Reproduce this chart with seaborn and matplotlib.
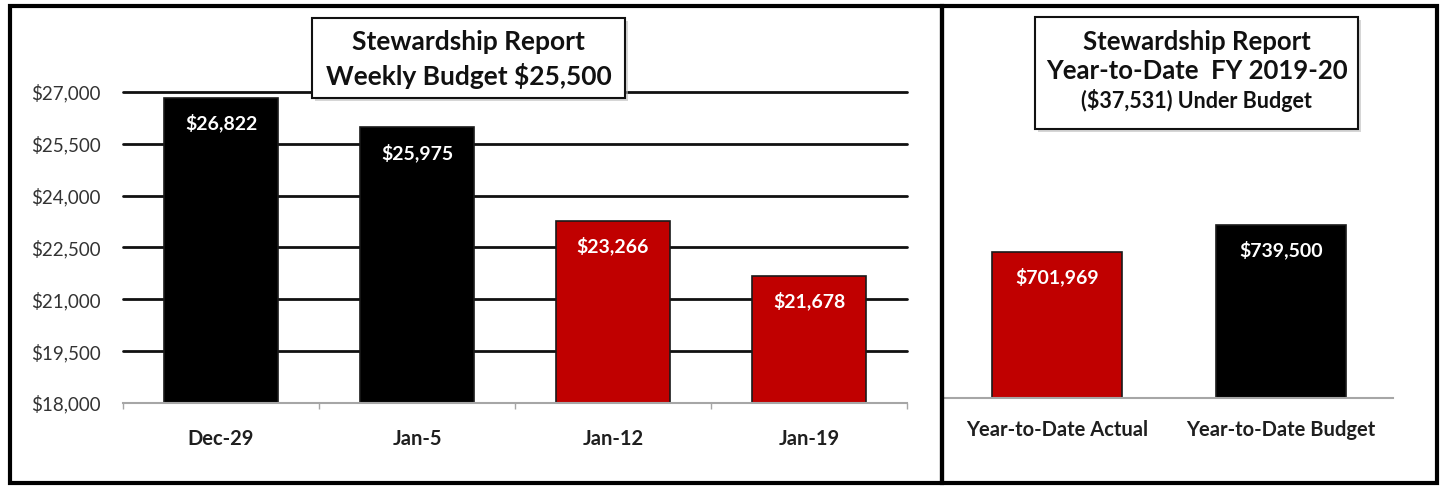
import matplotlib
matplotlib.use("Agg")
import matplotlib.pyplot as plt
from matplotlib.patches import Rectangle
from matplotlib.ticker import FixedLocator, StrMethodFormatter
import seaborn as sns

# weekly data
weeks = ["Dec-29", "Jan-5", "Jan-12", "Jan-19"]
weekly_amounts = [26822, 25975, 23266, 21678]
weekly_colors = ["#000000", "#000000", "#C00000", "#C00000"]
weekly_ticks = [18000, 19500, 21000, 22500, 24000, 25500, 27000]

# year-to-date data
ytd_labels = ["Year-to-Date Actual", "Year-to-Date Budget"]
ytd_amounts = [701969, 739500]
ytd_colors = ["#C00000", "#000000"]

W, H = 1443, 486

sns.set_theme(style="white")
plt.rcParams["font.family"] = ["Lato", "DejaVu Sans"]

fig = plt.figure(figsize=(W / 100, H / 100), dpi=100)


def frac(x0, y0, x1, y1):
    # pixel box (top-left origin) -> figure fraction rect
    return [x0 / W, 1 - y1 / H, (x1 - x0) / W, (y1 - y0) / H]


def label_bars(ax, values):
    for p, v in zip(ax.patches, values):
        ax.annotate(f"${v:,.0f}", (p.get_x() + p.get_width() / 2, p.get_height()),
                    xytext=(0, -18), textcoords="offset points", ha="center", va="center",
                    color="white", fontsize=14, fontweight="bold", zorder=5)


# ---- left panel: weekly ----
ax1 = fig.add_axes(frac(123, 92, 907, 403))
sns.barplot(x=weeks, y=weekly_amounts, hue=weeks, palette=weekly_colors, legend=False,
            width=0.58, edgecolor="#1a1a1a", linewidth=1.2, saturation=1, ax=ax1)
ax1.set_ylim(18000, 27000)
ax1.set_xlim(-0.5, len(weeks) - 0.5)
ax1.yaxis.set_major_locator(FixedLocator(weekly_ticks))
ax1.yaxis.set_major_formatter(StrMethodFormatter("${x:,.0f}"))
ax1.set_axisbelow(True)
ax1.yaxis.grid(True, color="#111111", linewidth=2)
for i, gl in enumerate(ax1.get_ygridlines()):
    gl.set_clip_on(False)
    if i == 0:
        gl.set_visible(False)
ax1.xaxis.set_minor_locator(FixedLocator([i - 0.5 for i in range(len(weeks) + 1)]))
ax1.tick_params(axis="x", which="minor", bottom=True, length=4.5, width=1, color="#A6A6A6")
ax1.tick_params(axis="x", which="major", length=0, pad=19, labelsize=14.5, labelcolor="#1f1f1f")
ax1.tick_params(axis="y", length=0, pad=16, labelsize=13.5, labelcolor="#333333")
for lbl in ax1.get_xticklabels():
    lbl.set_fontweight("bold")
for s in ["top", "right", "left"]:
    ax1.spines[s].set_visible(False)
ax1.spines["bottom"].set_color("#A6A6A6")
ax1.spines["bottom"].set_linewidth(1.5)
ax1.set_xlabel("")
ax1.set_ylabel("")
label_bars(ax1, weekly_amounts)

# ---- right panel: year to date ----
ax2 = fig.add_axes(frac(945, 36, 1393, 398))
sns.barplot(x=ytd_labels, y=ytd_amounts, hue=ytd_labels, palette=ytd_colors, legend=False,
            width=0.58, edgecolor="#1a1a1a", linewidth=1.2, saturation=1, ax=ax2)
ax2.set_ylim(500000, 1000000)
ax2.set_xlim(-0.5, len(ytd_labels) - 0.5)
ax2.set_yticks([])
ax2.tick_params(axis="x", length=0, pad=16, labelsize=14.5, labelcolor="#1f1f1f")
for lbl in ax2.get_xticklabels():
    lbl.set_fontweight("bold")
for s in ["top", "right", "left"]:
    ax2.spines[s].set_visible(False)
ax2.spines["bottom"].set_color("#A6A6A6")
ax2.spines["bottom"].set_linewidth(1.5)
ax2.set_xlabel("")
ax2.set_ylabel("")
label_bars(ax2, ytd_amounts)

# ---- panel frames ----
for box in [(10, 6, 942, 483), (942, 6, 1437, 483)]:
    r = frac(*box)
    fig.patches.append(Rectangle(r[:2], r[2], r[3], transform=fig.transFigure, fill=False,
                                 edgecolor="black", linewidth=3, zorder=10))


# ---- title boxes ----
def title_box(box, lines):
    x0, y0, x1, y1 = box
    r = frac(x0 + 3, y0 + 3, x1 + 3, y1 + 3)
    fig.patches.append(Rectangle(r[:2], r[2], r[3], transform=fig.transFigure,
                                 facecolor="#bbbbbb", edgecolor="none", alpha=0.6, zorder=4))
    r = frac(*box)
    fig.patches.append(Rectangle(r[:2], r[2], r[3], transform=fig.transFigure,
                                 facecolor="white", edgecolor="#111111", linewidth=1.5, zorder=5))
    cx = (x0 + x1) / 2 / W
    for text, yc, size in lines:
        fig.text(cx, 1 - yc / H, text, ha="center", va="center", fontsize=size,
                 fontweight="bold", color="#111111", zorder=6)


title_box((312, 18, 625, 98), [("Stewardship Report", 42, 19),
                               ("Weekly Budget $25,500", 76, 19)])
title_box((1035, 17, 1358, 129), [("Stewardship Report", 42, 18.5),
                                  ("Year-to-Date  FY 2019-20", 71, 18.5),
                                  ("($37,531) Under Budget", 100, 15.5)])

fig.savefig("out.png", dpi=100)
